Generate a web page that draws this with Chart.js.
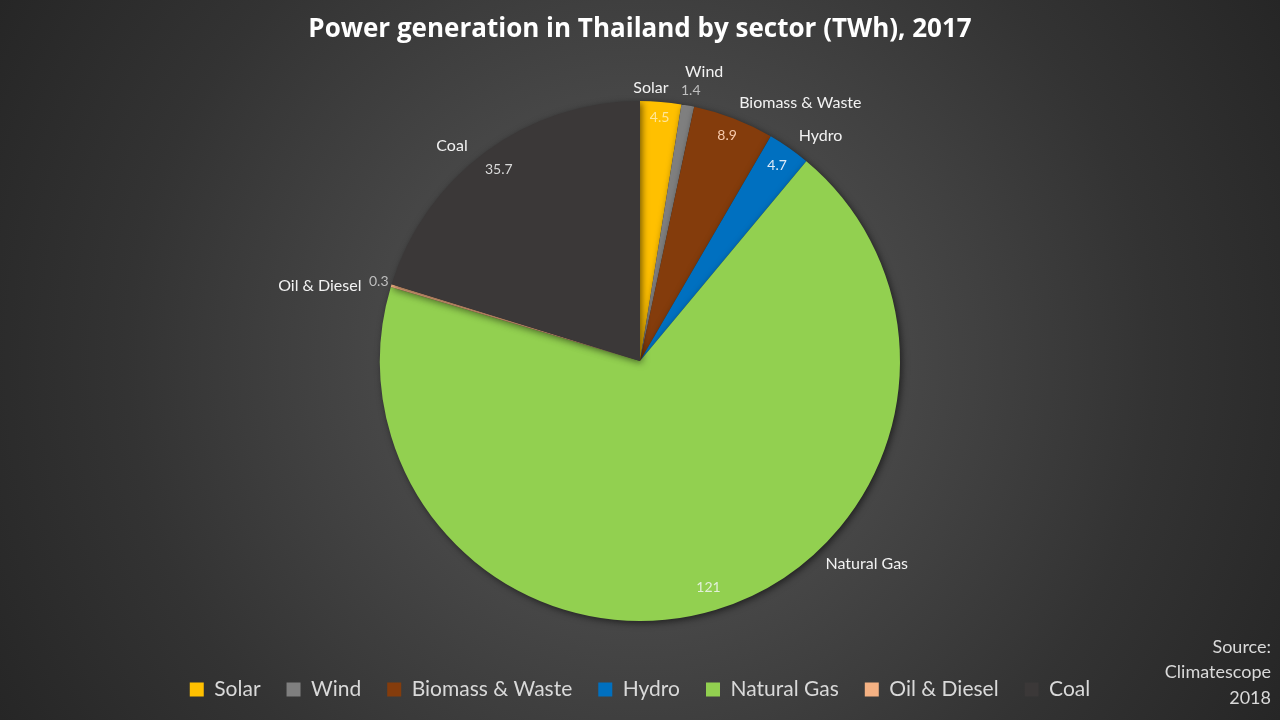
<!DOCTYPE html>
<html>
<head>
<meta charset="utf-8">
<script src="https://cdn.jsdelivr.net/npm/chart.js@4"></script>
<style>
  html, body { margin: 0; padding: 0; }
  body {
    width: 1280px; height: 720px; overflow: hidden;
    background: radial-gradient(circle farthest-corner at 50% 50%, #5b5b5b 0%, #474747 35%, #333333 70%, #262626 100%);
  }
  #wrap { position: relative; width: 1280px; height: 720px; }
</style>
</head>
<body>
<div id="wrap"><canvas id="pie"></canvas></div>
<script>
// data
var sectors = ["Solar", "Wind", "Biomass & Waste", "Hydro", "Natural Gas", "Oil & Diesel", "Coal"];
var twh = [4.5, 1.4, 8.9, 4.7, 121, 0.3, 35.7];
var valueText = ["4.5", "1.4", "8.9", "4.7", "121", "0.3", "35.7"];

// styles
var sliceColors = ["#FFC000", "#7F7F7F", "#843C0C", "#0070C0", "#92D050", "#F4B183", "#3B3838"];
var valueColors = ["#FFE699", "#BFBFBF", "#F8CBAD", "#DEEBF7", "#E2F0D9", "#BFBFBF", "#D9D9D9"];
// label placement: name position as [degrees clockwise from top, radius factor]
var namePos = [[2.3, 1.05], [12.5, 1.14], [31.8, 1.17], [38.7, 1.11], [131.8, 1.17], [283.2, 1.265], [318.9, 1.10]];
var valueRadius = [0.94, 1.06, 0.93, 0.92, 0.91, 1.05, 0.915];

var FONT = "Lato, 'Open Sans', sans-serif";

var shadowPlugin = {
    id: 'shadow',
    beforeDatasetsDraw: function (chart) {
        var ctx = chart.ctx;
        ctx.save();
        ctx.shadowColor = 'rgba(0,0,0,0.55)';
        ctx.shadowBlur = 7;
        ctx.shadowOffsetX = 2;
        ctx.shadowOffsetY = 2;
    },
    afterDatasetsDraw: function (chart) {
        chart.ctx.restore();
    }
};

var labelPlugin = {
    id: 'sliceLabels',
    afterDraw: function (chart) {
        var ctx = chart.ctx;
        var arcs = chart.getDatasetMeta(0).data;
        ctx.save();
        ctx.textBaseline = 'middle';
        arcs.forEach(function (arc, i) {
            var cx = arc.x, cy = arc.y, R = arc.outerRadius;
            // value
            var mid = (arc.startAngle + arc.endAngle) / 2;
            var vr = R * valueRadius[i];
            ctx.font = "14px " + FONT;
            ctx.fillStyle = valueColors[i];
            ctx.textAlign = 'center';
            ctx.fillText(valueText[i], cx + vr * Math.cos(mid), cy + vr * Math.sin(mid));
            // name
            var a = (namePos[i][0] - 90) * Math.PI / 180;
            var nr = R * namePos[i][1];
            ctx.font = "16px " + FONT;
            ctx.fillStyle = '#F2F2F2';
            ctx.fillText(sectors[i], cx + nr * Math.cos(a), cy + nr * Math.sin(a));
        });
        // source note
        ctx.font = "18px " + FONT;
        ctx.fillStyle = '#D9D9D9';
        ctx.textAlign = 'right';
        var src = ["Source:", "Climatescope", "2018"];
        src.forEach(function (s, k) {
            ctx.fillText(s, chart.width - 9, 647 + k * 25.5);
        });
        ctx.restore();
    }
};

Chart.defaults.font.family = FONT;

var ctx = document.getElementById('pie').getContext('2d');
window.chart = new Chart(ctx, {
    type: 'pie',
    data: {
        labels: sectors,
        datasets: [{
            data: twh,
            backgroundColor: sliceColors,
            borderWidth: 0,
            radius: 260
        }]
    },
    options: {
        responsive: true,
        maintainAspectRatio: false,
        animation: false,
        layout: { padding: { top: 0, bottom: 10 } },
        plugins: {
            title: {
                display: true,
                text: 'Power generation in Thailand by sector (TWh), 2017',
                color: '#FFFFFF',
                font: { size: 26, weight: 'bold', family: "'Open Sans', Lato, sans-serif" },
                padding: { top: 14, bottom: 24 }
            },
            legend: {
                position: 'bottom',
                labels: {
                    color: '#D9D9D9',
                    font: { size: 21, family: FONT },
                    boxWidth: 14,
                    boxHeight: 14,
                    padding: 26
                }
            },
            tooltip: { enabled: false }
        }
    },
    plugins: [shadowPlugin, labelPlugin]
});
</script>
</body>
</html>
